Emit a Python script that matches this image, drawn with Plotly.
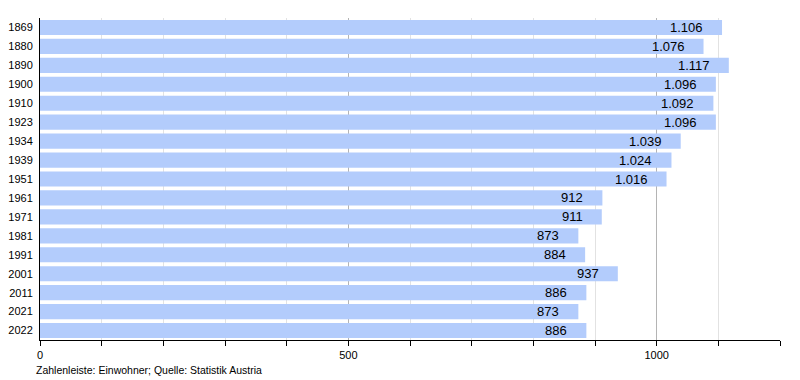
import plotly.graph_objects as go

years = ["1869", "1880", "1890", "1900", "1910", "1923", "1934", "1939", "1951",
         "1961", "1971", "1981", "1991", "2001", "2011", "2021", "2022"]
population = [1106, 1076, 1117, 1096, 1092, 1096, 1039, 1024, 1016,
              912, 911, 873, 884, 937, 886, 873, 886]

def fmt(v):
    return f"{v:,}".replace(",", ".")

fig = go.Figure()
fig.add_trace(go.Bar(
    x=population, y=years, orientation="h",
    marker=dict(color="#b3ccfc", line=dict(width=0)),
    width=0.8, hoverinfo="skip",
))
for i, v in enumerate(population):
    fig.add_annotation(x=v, y=i, text=fmt(v), showarrow=False,
                       xanchor="right", xshift=-17,
                       font=dict(family="Liberation Sans, Arial", size=13, color="#000"))

fig.add_annotation(x=0, y=0, xref="paper", yref="paper", yshift=-38, xshift=-6,
                   xanchor="left", yanchor="bottom",
                   text="Zahlenleiste: Einwohner; Quelle: Statistik Austria", showarrow=False,
                   font=dict(family="Liberation Sans, Arial", size=10.5, color="#000"))

fig.update_layout(
    width=800, height=380,
    margin=dict(l=32, r=28, t=10, b=48),
    paper_bgcolor="white", plot_bgcolor="white",
    showlegend=False,
    font=dict(family="Liberation Sans, Arial", size=11, color="#000"),
    xaxis=dict(range=[0, 1200], tickvals=[0, 500, 1000], ticktext=["0", "500", "1000"],
               showgrid=True, gridcolor="#b4b4b4", gridwidth=1,
               ticks="outside", ticklen=5, tickcolor="#000",
               showline=True, linecolor="#000", linewidth=1,
               zeroline=False, tickfont=dict(size=11), automargin=False,
               minor=dict(dtick=100, tick0=0, showgrid=True, gridcolor="#e2e2e2",
                          ticks="outside", ticklen=5, tickcolor="#000"),
               fixedrange=True),
    yaxis=dict(type="category", categoryorder="array", categoryarray=years,
               range=[len(years) - 0.5, -0.5],
               showline=True, linecolor="#000", linewidth=1, ticks="", showgrid=False,
               tickfont=dict(size=11), ticklabelstandoff=4, fixedrange=True, automargin=False),
    bargap=0.2,
)
fig.write_html("out.html")
